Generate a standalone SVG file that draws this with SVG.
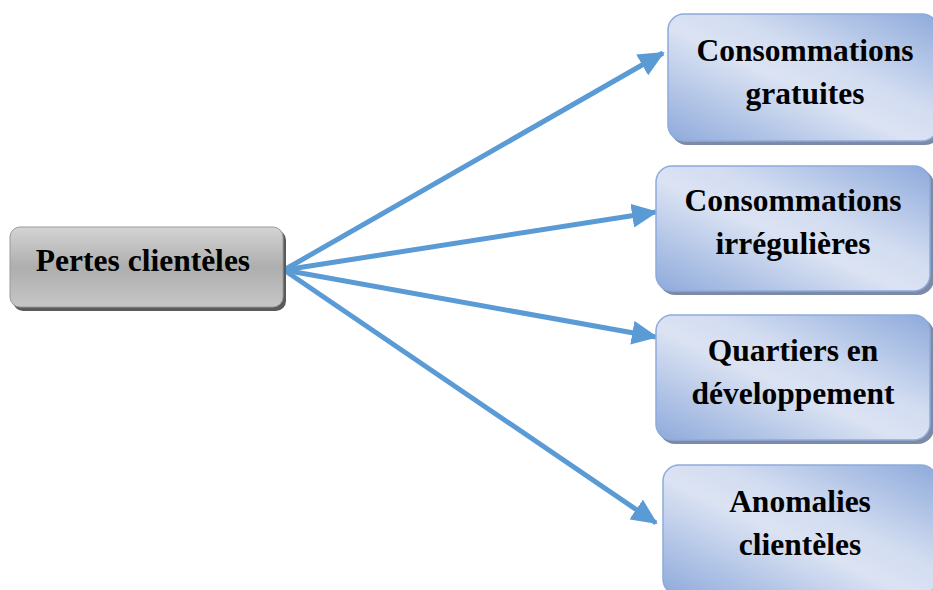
<svg xmlns="http://www.w3.org/2000/svg" width="933" height="590" viewBox="0 0 933 590">
<defs>
<linearGradient id="gBlue" x1="0" y1="1" x2="1" y2="0">
<stop offset="0" stop-color="#8eaadb"/>
<stop offset="0.45" stop-color="#dbe3f3"/>
<stop offset="0.6" stop-color="#d3ddf1"/>
<stop offset="1" stop-color="#8eaadb"/>
</linearGradient>
<linearGradient id="gGray" x1="0" y1="0" x2="0" y2="1">
<stop offset="0" stop-color="#d4d4d4"/>
<stop offset="0.5" stop-color="#aeaeae"/>
<stop offset="1" stop-color="#c6c6c6"/>
</linearGradient>
<marker id="ah" markerUnits="userSpaceOnUse" markerWidth="26" markerHeight="24" viewBox="0 0 26 24" refX="24" refY="12" orient="auto">
<path d="M0,0 L26,12 L0,24 Z" fill="#5b9bd5"/>
</marker>
</defs>
<style>
.shb{fill:#7d8aa6}
.box{fill:url(#gBlue);stroke:#8eaadb;stroke-width:1.5}
.shg{fill:#5a5a5a}
.gbox{fill:url(#gGray);stroke:#9a9a9a;stroke-width:1}
.t{font-family:"Liberation Serif","Times New Roman",serif;font-weight:bold;font-size:31.5px;fill:#000;text-anchor:middle}
.c{fill:none;stroke:#5b9bd5;stroke-width:5;marker-end:url(#ah)}
</style>
<rect width="933" height="590" fill="#ffffff"/>
<g id="connectors">
<line class="c" x1="284" y1="270" x2="663" y2="53"/>
<line class="c" x1="284" y1="270" x2="656" y2="212"/>
<line class="c" x1="284" y1="270" x2="656" y2="337"/>
<line class="c" x1="284" y1="270" x2="656" y2="523"/>
</g>
<g id="n0">
<rect class="shg" x="13" y="230" width="273" height="81" rx="10"/>
<rect class="gbox" x="10" y="227" width="273" height="80" rx="10"/>
<text class="t" x="143" y="271">Pertes clientèles</text>
</g>
<g id="n1">
<rect class="shb" x="671" y="17" width="270" height="128" rx="16"/>
<rect class="box" x="668" y="14" width="270" height="127" rx="16"/>
<text class="t" x="805" y="61">Consommations</text>
<text class="t" x="805" y="104">gratuites</text>
</g>
<g id="n2">
<rect class="shb" x="659" y="169" width="275" height="126" rx="16"/>
<rect class="box" x="656" y="166" width="274" height="125" rx="16"/>
<text class="t" x="793" y="211">Consommations</text>
<text class="t" x="793" y="254">irrégulières</text>
</g>
<g id="n3">
<rect class="shb" x="659" y="318" width="275" height="126" rx="16"/>
<rect class="box" x="656" y="315" width="274" height="125" rx="16"/>
<text class="t" x="793" y="361">Quartiers en</text>
<text class="t" x="793" y="404">développement</text>
</g>
<g id="n4">
<rect class="shb" x="666" y="468" width="275" height="130" rx="16"/>
<rect class="box" x="663" y="465" width="274" height="130" rx="16"/>
<text class="t" x="800" y="512">Anomalies</text>
<text class="t" x="800" y="555">clientèles</text>
</g>
</svg>
